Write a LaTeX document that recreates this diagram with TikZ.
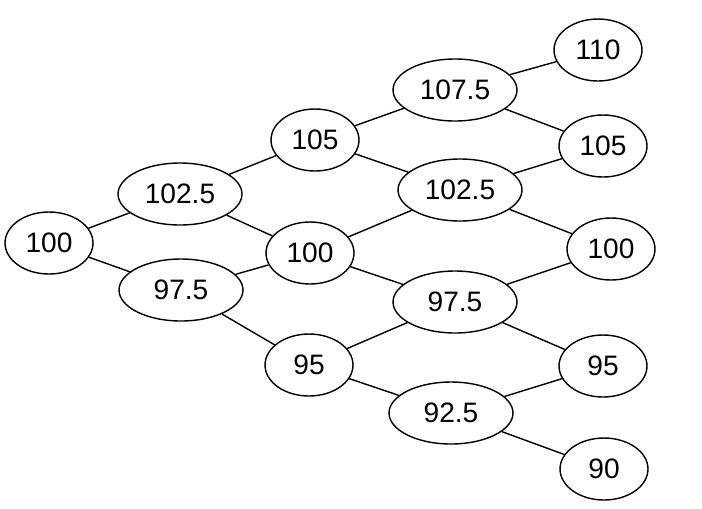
\documentclass[tikz,border=0pt]{standalone}
\usepackage{fontspec}
\setmainfont{Liberation Sans}
\usepackage{tikz}
\usetikzlibrary{shapes.geometric}

\begin{document}
\begin{tikzpicture}[
    x=0.02cm, y=-0.02cm,
    price/.style={ellipse, draw, line width=0.8pt, minimum height=1.24cm, minimum width=1.76cm, inner sep=0pt, font=\fontsize{16}{19}\selectfont},
    wprice/.style={price, minimum width=2.48cm},
    link/.style={line width=0.8pt}
]
\useasboundingbox (0,0) rectangle (702,508);
\node[price]  (p0)  at (49,243)  {100};
\node[wprice] (p1a) at (180,194) {102.5};
\node[wprice] (p1b) at (181,290) {97.5};
\node[price]  (p2a) at (315,140) {105};
\node[price]  (p2b) at (310,253) {100};
\node[price]  (p2c) at (309,365) {95};
\node[wprice] (p3a) at (455,90)  {107.5};
\node[wprice] (p3b) at (460,190) {102.5};
\node[wprice] (p3c) at (455,302) {97.5};
\node[wprice] (p3d) at (451,413) {92.5};
\node[price]  (p4a) at (598,50)  {110};
\node[price]  (p4b) at (603,146) {105};
\node[price]  (p4c) at (611,249) {100};
\node[price]  (p4d) at (603,366) {95};
\node[price]  (p4e) at (604,469) {90};
\draw[link] (p0) -- (p1a);
\draw[link] (p0) -- (p1b);
\draw[link] (p1a) -- (p2a);
\draw[link] (p1a) -- (p2b);
\draw[link] (p1b) -- (p2b);
\draw[link] (p1b) -- (p2c);
\draw[link] (p2a) -- (p3a);
\draw[link] (p2a) -- (p3b);
\draw[link] (p2b) -- (p3b);
\draw[link] (p2b) -- (p3c);
\draw[link] (p2c) -- (p3c);
\draw[link] (p2c) -- (p3d);
\draw[link] (p3a) -- (p4a);
\draw[link] (p3a) -- (p4b);
\draw[link] (p3b) -- (p4b);
\draw[link] (p3b) -- (p4c);
\draw[link] (p3c) -- (p4c);
\draw[link] (p3c) -- (p4d);
\draw[link] (p3d) -- (p4d);
\draw[link] (p3d) -- (p4e);
\end{tikzpicture}
\end{document}
